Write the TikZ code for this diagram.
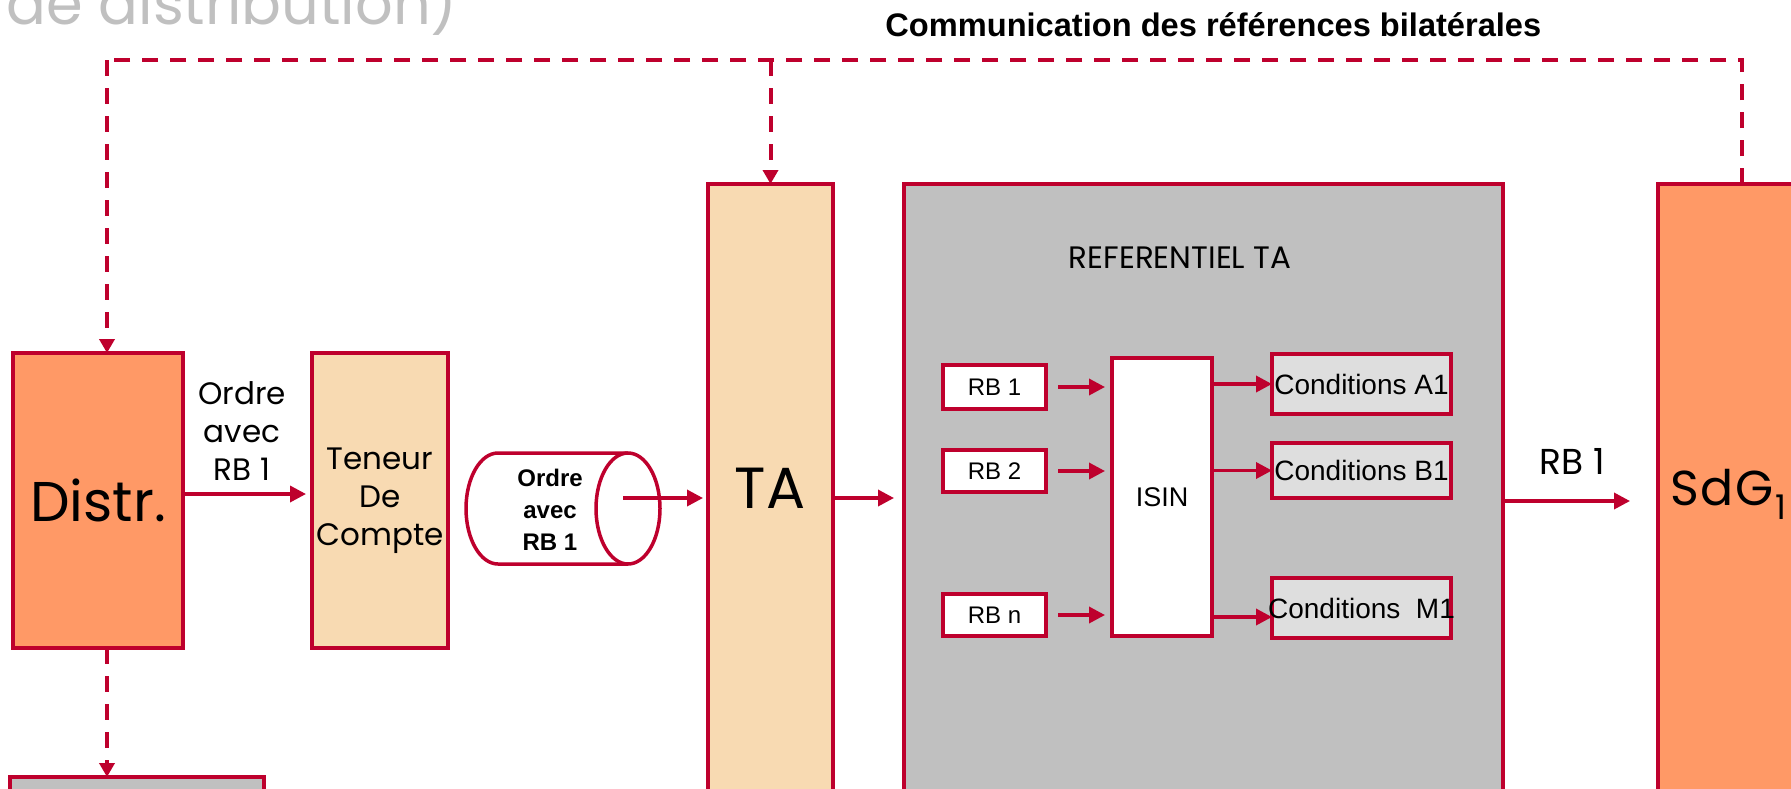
\documentclass[tikz,border=0pt]{standalone}
\usepackage{fontspec}
\setmainfont{Liberation Sans}
\newfontfamily\gothic{Poppins}
\newfontfamily\gothicwide{Poppins}[LetterSpace=3]
\usetikzlibrary{arrows.meta,calc}
\definecolor{crim}{HTML}{BE002D}
\definecolor{orng}{HTML}{FF9966}
\definecolor{wheatc}{HTML}{F8DAB2}
\definecolor{midgray}{HTML}{C0C0C0}
\definecolor{lgray}{HTML}{DEDEDE}
\begin{document}
\begin{tikzpicture}[x=0.5pt,y=-0.5pt,
  box/.style={draw=crim, line width=1.75pt, inner sep=0pt, outer sep=0pt},
  cond/.style={box, fill=lgray, minimum width=89.5pt},
  condtext/.style={inner sep=0pt, font=\fontsize{14}{14}\selectfont},
  rbbox/.style={box, fill=white, minimum width=51.5pt, font=\fontsize{12}{12}\selectfont},
  arr/.style={draw=crim, line width=1.75pt, -{Triangle[length=8pt,width=8pt]}},
  darr/.style={draw=crim, line width=2pt, dash pattern=on 8pt off 6pt, -{Triangle[length=7pt,width=7.5pt]}},
  dline/.style={draw=crim, line width=2pt, dash pattern=on 8pt off 6pt},
]
\clip (0,0) rectangle (1791,788);
\fill[white] (0,0) rectangle (1791,788);

% title fragment and header
\node[anchor=base west, inner sep=0pt, text=midgray, font=\gothic\fontsize{29.5}{29.5}\selectfont] (title) at (6,24) {de distribution)};
\node[anchor=base west, inner sep=0pt, font=\bfseries\fontsize{16.3}{16.3}\selectfont] (comm) at (885,36) {Communication des références bilatérales};

% main boxes
\node[box, fill=orng, minimum width=85pt, minimum height=147.5pt, font=\gothic\fontsize{28}{28}\selectfont] (distr) at (98,500.5) {Distr.};
\node[box, fill=wheatc, minimum width=68pt, minimum height=147.5pt, align=center, font=\gothic\fontsize{15.5}{19}\selectfont] (teneur) at (380,500.5) {Teneur\\De\\Compte};
\node[box, fill=wheatc, minimum width=62.5pt, minimum height=358pt] (ta) at (770.5,542) {};
\node[font=\gothic\fontsize{29}{29}\selectfont] (talabel) at (770,488) {TA};
\node[box, fill=midgray, minimum width=299.5pt, minimum height=358pt] (ref) at (1203.5,542) {};
\node[font=\gothic\fontsize{15.5}{15.5}\selectfont] (reflabel) at (1180,258) {REFERENTIEL TA};
\node[box, fill=orng, minimum width=84pt, minimum height=358pt] (sdg) at (1742,542) {};
\node[anchor=base west, inner sep=0pt, font=\fontsize{24.5}{24.5}\selectfont] (sdglabel) at (1670,505) {{\gothicwide SdG}\kern1pt\raisebox{-7pt}{\gothic\fontsize{17}{17}\selectfont 1}};
\node[box, fill=midgray, minimum width=127pt, minimum height=61.5pt] (bot) at (137,838.5) {};

% cylinder
\filldraw[draw=crim, fill=white, line width=1.75pt] (628,453) -- (498,453) arc[start angle=270, end angle=90, x radius=32, y radius=55.5] -- (628,564);
\filldraw[draw=crim, fill=white, line width=1.75pt] (628,508.5) ellipse [x radius=32, y radius=55.5];
\node[align=center, font=\bfseries\fontsize{12}{16}\selectfont] (cyl) at (550,510) {Ordre\\avec\\RB 1};
\coordinate (cylc) at (623,498);

% referentiel contents
\node[rbbox, minimum height=22pt] (rb1) at (994.5,387) {RB 1};
\node[rbbox, minimum height=21pt] (rb2) at (994.5,471) {RB 2};
\node[rbbox, minimum height=21pt] (rbn) at (994.5,615) {RB n};
\node[box, fill=white, minimum width=50pt, minimum height=139pt, font=\fontsize{13.5}{13.5}\selectfont] (isin) at (1162,497) {ISIN};
\node[cond, minimum height=30pt] (condA) at (1361.5,384) {};
\node[condtext] (condAt) at (condA) {Conditions A1};
\node[cond, minimum height=27.5pt] (condB) at (1361.5,470.5) {};
\node[condtext] (condBt) at (condB) {Conditions B1};
\node[cond, minimum height=30pt] (condM) at (1361.5,608) {};
\node[condtext] (condMt) at (condM) {Conditions\ \ M1};

% solid connectors
\node[align=center, font=\gothic\fontsize{15.5}{19}\selectfont] (lab1) at (242,431) {Ordre\\avec\\RB 1};
\draw[arr, shorten >=3pt] (distr.east |- 0,494) -- (teneur.west |- 0,494);
\draw[arr, shorten >=2.5pt] (cylc) -- (cylc -| ta.west);
\draw[arr, shorten >=5pt] (ta.east |- cylc) -- (ref.west |- cylc);
\node[anchor=base, font=\gothic\fontsize{18}{18}\selectfont] (lab2) at (1572,474) {RB 1};
\draw[arr, shorten >=14pt] (ref.east |- 0,501) -- (sdg.west |- 0,501);
\draw[arr, shorten <=6pt, shorten >=3.5pt] (rb1.east) -- (rb1.east -| isin.west);
\draw[arr, shorten <=6pt, shorten >=3.5pt] (rb2.east) -- (rb2.east -| isin.west);
\draw[arr, shorten <=6pt, shorten >=3.5pt] (rbn.east) -- (rbn.east -| isin.west);
\draw[arr] (isin.east |- condA.west) -- (condA.west);
\draw[arr] (isin.east |- condB.west) -- (condB.west);
\draw[arr] (isin.east |- 0,617) -- (condM.west |- 0,617);

% dashed connectors
\coordinate (tl) at (107,60);
\coordinate (tr) at (sdg.north |- tl);
\draw[dline] (sdg.north) -- (tr) -- (tl);
\draw[darr] (tl) -- (tl |- distr.north);
\draw[darr] (ta.north |- tl) -- (ta.north);
\draw[darr] (tl |- distr.south) -- (tl |- bot.north);
\end{tikzpicture}
\end{document}
